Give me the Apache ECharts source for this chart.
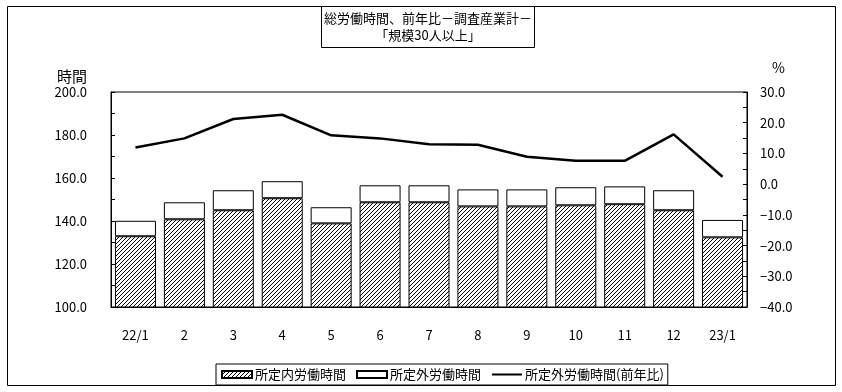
<!DOCTYPE html>
<html>
<head>
<meta charset="utf-8">
<script src="https://cdn.jsdelivr.net/npm/echarts@6/dist/echarts.min.js"></script>
<style>html,body{margin:0;padding:0;background:#fff;}#c{width:842px;height:392px;}</style>
</head>
<body>
<div id="c"></div>
<script>
const categories = ['22/1','2','3','4','5','6','7','8','9','10','11','12','23/1'];
const scheduledHours = [132.9,140.8,145.0,150.6,138.9,148.7,148.7,146.8,146.8,147.3,147.8,145.0,132.4];
const overtimeHours = [7.2,7.9,9.3,7.9,7.5,7.9,7.9,7.9,7.9,8.4,8.3,9.3,8.1];
const overtimeYoY = [11.9,14.9,21.2,22.6,15.9,14.9,13.0,12.8,8.9,7.6,7.6,16.2,2.4];

const FONT = '"Noto Sans CJK JP", "Liberation Sans", sans-serif';

// diagonal hatch pattern
const P = 4;
const pc = document.createElement('canvas');
pc.width = P; pc.height = P;
const pctx = pc.getContext('2d');
pctx.fillStyle = '#fff'; pctx.fillRect(0,0,P,P);
pctx.fillStyle = '#000';
for (let y = 0; y < P; y++) { for (let x = 0; x < P; x++) { if ((x + y) % P === P - 1) pctx.fillRect(x,y,1,1); } }

const chart = echarts.init(document.getElementById('c'), null, {renderer:'canvas'});
const fmtLeft = v => (v % 20 === 0) ? v.toFixed(1) : '';
const fmtRight = v => (v % 10 === 0) ? (v < 0 ? '\u2212' + Math.abs(v).toFixed(1) : v.toFixed(1)) : '';

chart.setOption({
  animation: false,
  backgroundColor: '#fff',
  textStyle: {fontFamily: FONT},
  graphic: [{
    type: 'rect', z: -1, silent: true,
    shape: {x: 7.5, y: 6.5, width: 828, height: 379},
    style: {fill: '#fff', stroke: '#000', lineWidth: 1}
  }],
  title: {
    text: '総労働時間、前年比－調査産業計－\n「規模30人以上」',
    left: 425, top: 6,
    padding: [4, 3, 4, 3],
    borderColor: '#000', borderWidth: 1, backgroundColor: '#fff',
    textAlign: 'center',
    textStyle: {fontFamily: FONT, fontSize: 13, fontWeight: 'normal', color: '#000', lineHeight: 17}
  },
  legend: {
    left: 216, top: 364,
    padding: [4, 4, 4, 5],
    borderColor: '#000', borderWidth: 1, backgroundColor: '#fff',
    itemWidth: 30, itemHeight: 7, itemGap: 10,
    textStyle: {fontFamily: FONT, fontSize: 13, color: '#000', padding: [0,0,0,-2]},
    data: [
      {name: '所定内労働時間', icon: 'rect'},
      {name: '所定外労働時間', icon: 'rect'},
      {name: '所定外労働時間(前年比)', itemStyle: {opacity: 0}}
    ]
  },
  grid: {left: 111, right: 95, top: 92, bottom: 85, show: true, borderColor: '#000', borderWidth: 1, containLabel: false},
  xAxis: {
    type: 'category', data: categories,
    axisLine: {onZero: false, lineStyle: {color: '#000', width: 1}},
    axisTick: {show: false},
    axisLabel: {color: '#000', fontSize: 13, margin: 22, fontFamily: FONT}
  },
  yAxis: [{
    type: 'value', min: 100, max: 200, interval: 10,
    name: '時間', nameLocation: 'end', nameGap: 8,
    nameTextStyle: {fontSize: 15, color: '#000', align: 'right', padding: [0, 24, 0, 0], fontFamily: FONT},
    axisLine: {show: true, lineStyle: {color: '#000'}},
    axisTick: {show: true, inside: true, length: 4, lineStyle: {color: '#000'}},
    axisLabel: {color: '#000', fontSize: 13, margin: 24, formatter: fmtLeft, fontFamily: FONT},
    splitLine: {show: false}
  }, {
    type: 'value', min: -40, max: 30, interval: 5,
    name: '%', nameLocation: 'end', nameGap: 17,
    nameTextStyle: {fontSize: 14, color: '#000', align: 'left', padding: [0, 0, 0, 25], fontFamily: FONT},
    axisLine: {show: true, lineStyle: {color: '#000'}},
    axisTick: {show: true, inside: true, length: 4, lineStyle: {color: '#000'}},
    axisLabel: {color: '#000', fontSize: 13, margin: 13, formatter: fmtRight, fontFamily: FONT},
    splitLine: {show: false}
  }],
  series: [{
    name: '所定内労働時間', type: 'bar', stack: 'total', barWidth: 41,
    data: scheduledHours,
    itemStyle: {color: {image: pc, repeat: 'repeat'}, borderColor: '#000', borderWidth: 1}
  }, {
    name: '所定外労働時間', type: 'bar', stack: 'total', barWidth: 41,
    data: overtimeHours,
    itemStyle: {color: '#fff', borderColor: '#000', borderWidth: 1}
  }, {
    name: '所定外労働時間(前年比)', type: 'line', yAxisIndex: 1,
    data: overtimeYoY, symbol: 'none', z: 5,
    lineStyle: {color: '#000', width: 2.5},
    itemStyle: {color: '#000'}
  }]
});
</script>
</body>
</html>
